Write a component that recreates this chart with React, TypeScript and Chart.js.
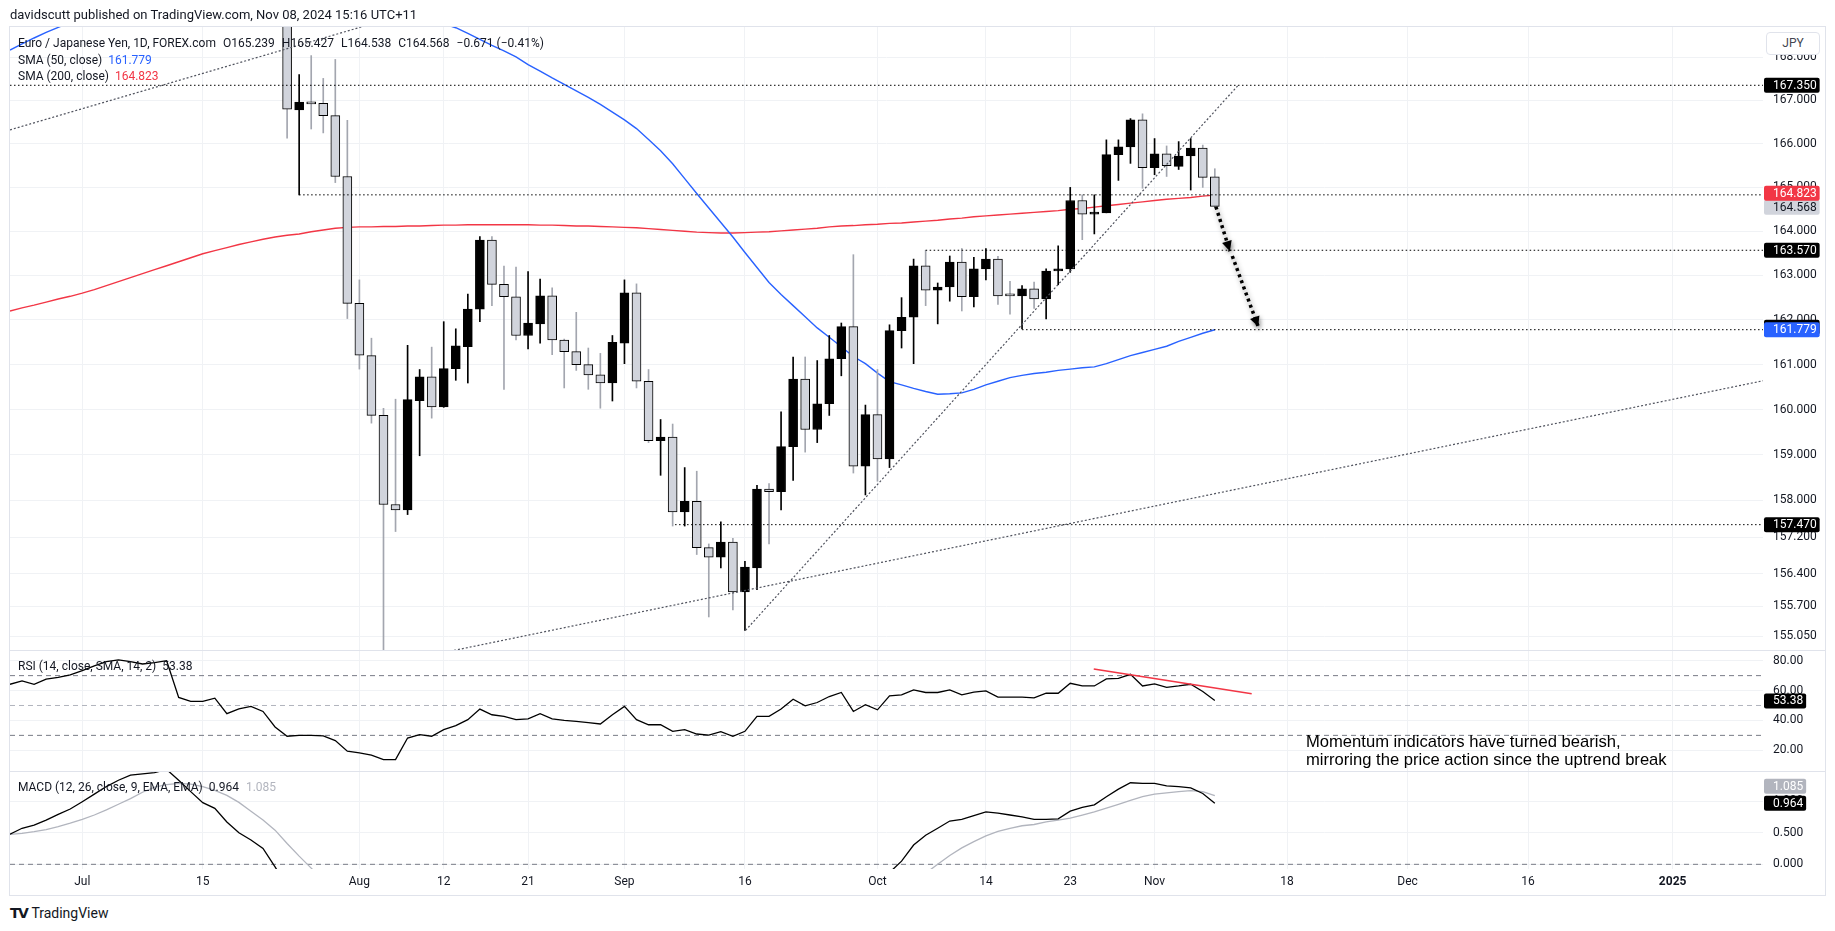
import React, { useEffect, useRef } from "react";
import { Chart, registerables } from "chart.js";

Chart.register(...registerables);

const FONT = "Roboto, 'Noto Sans', Arial, sans-serif";
const TEXT = "#131722";
const GRID = "#f0f2f5";

// ---------- time axis (trading-day index, 0 = 1 Jul 2024) ----------
const xMin = -6;
const xMax = 139.5;
const timeTickIndex = [0, 10, 23, 30, 37, 45, 55, 66, 75, 82, 89, 100, 110, 120, 132];
const timeTickLabels = ["Jul", "15", "Aug", "12", "21", "Sep", "16", "Oct", "14", "23", "Nov", "18", "Dec", "16", "2025"];

// ---------- candles (24 Jul .. 8 Nov 2024) ----------
const candleStartIndex = 17;
const opens = [168.85, 166.78, 166.96, 166.93, 166.65, 165.25, 162.37, 161.20, 159.87, 157.91,
  157.79, 160.20, 160.73, 160.06, 160.91, 161.40, 162.24, 163.80, 162.80, 162.52,
  161.65, 161.91, 162.54, 161.55, 161.29, 161.00, 160.77, 160.59, 161.48, 162.61,
  160.63, 159.31, 159.39, 157.75, 157.98, 156.97, 156.76, 157.09, 156.01, 156.53,
  158.25, 158.19, 159.18, 160.68, 159.56, 160.13, 161.13, 161.85, 158.75, 159.89,
  158.91, 161.76, 162.06, 163.22, 162.67, 162.74, 163.30, 162.52, 163.15, 163.37,
  162.56, 162.54, 162.70, 162.47, 163.10, 163.15, 164.70, 164.39, 164.42, 165.75,
  165.93, 166.55, 165.45, 165.77, 165.48, 165.72, 165.90, 165.239];
const highs = [169.10, 167.60, 168.04, 167.51, 167.95, 166.54, 162.90, 161.59, 160.03, 160.23,
  161.43, 160.89, 161.39, 161.96, 161.80, 162.58, 163.88, 163.88, 163.21, 163.19,
  163.09, 162.92, 162.72, 161.57, 162.17, 161.37, 161.25, 161.65, 162.90, 162.81,
  160.89, 159.78, 159.68, 158.72, 158.64, 157.05, 157.53, 157.17, 156.67, 158.33,
  158.37, 159.95, 161.17, 161.17, 161.09, 161.65, 161.93, 163.47, 160.10, 160.89,
  161.89, 162.50, 163.37, 163.57, 162.83, 163.44, 163.61, 163.41, 163.61, 163.43,
  162.87, 162.77, 162.85, 163.15, 163.67, 165.00, 164.83, 164.83, 166.09, 166.09,
  166.58, 166.69, 166.12, 165.95, 166.05, 166.12, 165.97, 165.427];
const lows = [166.13, 164.83, 166.34, 166.25, 165.11, 162.03, 160.90, 159.70, 154.40, 157.32,
  157.69, 158.98, 159.81, 160.05, 160.65, 160.59, 161.96, 162.32, 160.45, 161.55,
  161.35, 161.48, 161.22, 160.48, 160.87, 160.45, 160.03, 160.19, 161.02, 160.48,
  159.27, 158.55, 157.44, 157.44, 156.82, 155.47, 156.53, 155.62, 155.18, 156.06,
  157.05, 157.79, 158.44, 159.06, 159.27, 159.87, 160.75, 158.60, 158.12, 158.42,
  158.72, 161.37, 161.02, 162.32, 161.91, 162.42, 162.20, 162.29, 162.90, 162.35,
  162.13, 161.80, 162.26, 162.02, 162.79, 163.07, 163.81, 163.94, 164.42, 165.16,
  165.55, 164.98, 165.29, 165.25, 165.41, 164.94, 165.00, 164.538];
const closes = [166.80, 166.96, 166.92, 166.65, 165.25, 162.37, 161.21, 159.87, 157.91, 157.79,
  160.22, 160.73, 160.06, 160.91, 161.42, 162.24, 163.80, 162.80, 162.52, 161.65,
  161.93, 162.54, 161.55, 161.29, 161.00, 160.77, 160.59, 161.50, 162.61, 160.63,
  159.31, 159.39, 157.75, 157.98, 156.97, 156.76, 157.09, 156.01, 156.55, 158.25,
  158.19, 159.18, 160.68, 159.56, 160.13, 161.13, 161.85, 158.75, 159.89, 158.91,
  161.76, 162.06, 163.22, 162.67, 162.74, 163.30, 162.52, 163.15, 163.37, 162.54,
  162.54, 162.70, 162.47, 163.10, 163.15, 164.70, 164.39, 164.42, 165.75, 165.93,
  166.55, 165.45, 165.77, 165.50, 165.72, 165.90, 165.23, 164.568];

// ---------- indicator series (index -6 .. 94) ----------
const lineStartIndex = -6;
const sma50 = [168.17, 168.31, 168.45, 168.58, 168.70, 168.81,
  168.91, 169.00, 169.08, 169.15, 169.21, 169.27, 169.32, 169.37, 169.41, 169.44,
  169.46, 169.48, 169.49, 169.50, 169.50, 169.49, 169.48, 169.46, 169.44, 169.41,
  169.38, 169.34, 169.30, 169.25, 169.20, 169.14, 169.08, 169.01, 168.94, 168.86,
  168.78, 168.69, 168.56, 168.42, 168.28, 168.15, 168.01, 167.83, 167.68, 167.52,
  167.37, 167.22, 167.07, 166.91, 166.73, 166.55, 166.35, 166.10, 165.84, 165.54,
  165.20, 164.86, 164.53, 164.20, 163.87, 163.52, 163.18, 162.84, 162.57, 162.32,
  162.07, 161.82, 161.61, 161.40, 161.18, 161.02, 160.81, 160.62, 160.55, 160.47,
  160.40, 160.34, 160.35, 160.37, 160.45, 160.55, 160.63, 160.71, 160.76, 160.80,
  160.83, 160.87, 160.90, 160.93, 160.95, 161.02, 161.11, 161.20, 161.27, 161.34,
  161.41, 161.52, 161.61, 161.70, 161.779];
const sma200 = [162.20, 162.27, 162.33, 162.40, 162.47, 162.53,
  162.60, 162.68, 162.77, 162.86, 162.95, 163.04, 163.13, 163.22, 163.31, 163.40,
  163.49, 163.56, 163.63, 163.70, 163.76, 163.82, 163.87, 163.91, 163.94, 163.99,
  164.03, 164.07, 164.09, 164.10, 164.10, 164.11, 164.11, 164.12, 164.12, 164.13,
  164.14, 164.14, 164.15, 164.15, 164.15, 164.15, 164.15, 164.15, 164.14, 164.14,
  164.13, 164.12, 164.12, 164.11, 164.10, 164.09, 164.08, 164.06, 164.04, 164.02,
  164.00, 163.98, 163.97, 163.96, 163.96, 163.97, 163.98, 163.99, 164.01, 164.03,
  164.05, 164.07, 164.10, 164.12, 164.13, 164.15, 164.16, 164.18, 164.19, 164.21,
  164.23, 164.25, 164.28, 164.30, 164.33, 164.35, 164.37, 164.39, 164.41, 164.43,
  164.45, 164.47, 164.50, 164.52, 164.55, 164.58, 164.61, 164.64, 164.67, 164.70,
  164.73, 164.75, 164.77, 164.80, 164.823];
const rsi = [64.2, 66.5, 64.2, 67.6, 68.9, 70.5,
  73.4, 76.5, 79.4, 80.5, 79.4, 77.8, 78.7, 80.0, 55.4, 52.7,
  52.7, 54.9, 44.5, 47.8, 49.4, 46.0, 35.6, 29.4, 30.0, 30.0,
  29.6, 26.5, 19.4, 18.2, 16.7, 13.8, 13.8, 28.2, 30.5, 29.4,
  33.8, 36.5, 40.5, 47.6, 43.8, 42.7, 40.5, 41.1, 44.5, 41.1,
  40.0, 39.4, 38.5, 37.6, 43.8, 49.4, 40.5, 37.1, 37.1, 32.7,
  33.8, 30.9, 30.2, 32.5, 29.4, 32.7, 42.7, 42.7, 47.6, 54.2,
  49.8, 52.0, 56.0, 58.7, 46.0, 50.5, 47.1, 56.5, 57.1, 60.5,
  58.7, 58.7, 60.5, 57.1, 58.9, 59.8, 55.6, 55.6, 55.6, 55.1,
  58.2, 58.2, 64.9, 63.1, 63.1, 67.8, 68.2, 70.9, 63.1, 64.5,
  62.2, 63.1, 64.2, 59.4, 53.38];
const macd = [0.475, 0.57, 0.62, 0.70, 0.79, 0.875,
  0.99, 1.11, 1.23, 1.33, 1.41, 1.43, 1.45, 1.50, 1.33, 1.15,
  0.975, 0.886, 0.67, 0.50, 0.385, 0.25, -0.04, -0.35, -0.62, -0.85,
  -1.05, -1.3, -1.65, -1.95, -2.2, -2.45, -2.6, -2.5, -2.4, -2.3,
  -2.15, -1.98, -1.8, -1.55, -1.38, -1.25, -1.15, -1.05, -0.93, -0.86,
  -0.8, -0.76, -0.73, -0.71, -0.62, -0.5, -0.5, -0.54, -0.6, -0.7,
  -0.78, -0.87, -0.95, -1.0, -1.07, -1.08, -0.98, -0.9, -0.78, -0.6,
  -0.52, -0.43, -0.33, -0.22, -0.30, -0.33, -0.36, -0.13, 0.05, 0.305,
  0.46, 0.57, 0.685, 0.71, 0.77, 0.83, 0.81, 0.78, 0.75, 0.71,
  0.71, 0.72, 0.84, 0.90, 0.94, 1.07, 1.19, 1.29, 1.28, 1.28,
  1.24, 1.23, 1.21, 1.12, 0.964];
const signal = [0.475, 0.49, 0.516, 0.55, 0.595, 0.65,
  0.71, 0.78, 0.86, 0.95, 1.04, 1.14, 1.22, 1.26, 1.28, 1.27,
  1.23, 1.17, 1.09, 0.98, 0.84, 0.70, 0.54, 0.33, 0.13, -0.06,
  -0.25, -0.46, -0.70, -0.95, -1.20, -1.45, -1.68, -1.84, -1.95, -2.02,
  -2.05, -2.04, -1.99, -1.90, -1.80, -1.69, -1.58, -1.47, -1.36, -1.26,
  -1.17, -1.09, -1.02, -0.96, -0.89, -0.81, -0.75, -0.71, -0.69, -0.69,
  -0.71, -0.74, -0.78, -0.82, -0.86, -0.89, -0.90, -0.89, -0.86, -0.83,
  -0.80, -0.75, -0.69, -0.62, -0.58, -0.56, -0.54, -0.50, -0.40, -0.28,
  -0.14, 0.0, 0.14, 0.26, 0.36, 0.45, 0.52, 0.57, 0.61, 0.63,
  0.67, 0.70, 0.73, 0.78, 0.83, 0.89, 0.95, 1.01, 1.07, 1.11,
  1.13, 1.15, 1.165, 1.15, 1.085];

// ---------- axis ticks ----------
const priceTicks = [168, 167, 166, 165, 164, 163, 162, 161, 160, 159, 158, 157.2, 156.4, 155.7, 155.05];
const priceMin = 154.76;
const priceMax = 168.73;
const rsiTicks = [80, 60, 40, 20];
const rsiLevels = [70, 50, 30];
const rsiLevelColors = ["#787b86", "#b2b5be", "#787b86"];
const macdTicks = [1, 0.5, 0];

// ---------- drawings ----------
const levelValues = [167.35, 164.83, 163.57, 161.78, 157.47];
const levelStartIndex = [-6, 18, 70, 78, 49.2];
const trendStartIndex = [-6, 55.05, 25];
const trendStartPrice = [166.32, 155.18, 154.44];
const trendEndIndex = [25, 95.94, 139.5];
const trendEndPrice = [168.86, 167.35, 160.64];
const arrowFromIndex = [94.09, 95.45];
const arrowFromPrice = [164.56, 163.44];
const arrowToIndex = [95.25, 97.6];
const arrowToPrice = [163.55, 161.85];
const rsiTrendIndex = [83.95, 97.06];
const rsiTrendValue = [74.5, 57.8];

// ---------- helpers ----------
const series = (vals: number[]) => vals.map((v, i) => ({ x: lineStartIndex + i, y: v }));

const lineDs = (data: any[], color: string, width: number, order: number, dash: number[] = [], extra: any = {}) => ({
  type: "line",
  data,
  borderColor: color,
  borderWidth: width,
  borderDash: dash,
  pointRadius: 0,
  tension: 0,
  fill: false,
  order,
  clip: 0,
  ...extra,
});

const xScale = (showLabels: boolean) => ({
  type: "linear",
  min: xMin,
  max: xMax,
  offset: false,
  bounds: "data",
  afterBuildTicks: (s: any) => {
    s.ticks = timeTickIndex.map((v) => ({ value: v }));
  },
  afterFit: (s: any) => {
    s.height = showLabels ? 27 : 0;
    s.paddingLeft = 0;
    s.paddingRight = 0;
  },
  grid: { color: GRID, drawTicks: false, offset: false },
  border: { display: false },
  ticks: {
    display: showLabels,
    autoSkip: false,
    maxRotation: 0,
    padding: 6,
    color: TEXT,
    font: (c: any) => ({ family: FONT, size: 12, weight: c.tick && c.tick.value === 132 ? "bold" : "normal" }),
    callback: (v: any) => {
      const k = timeTickIndex.indexOf(Number(v));
      return k >= 0 ? timeTickLabels[k] : "";
    },
  },
});

const yScale = (type: string, min: number, max: number, ticks: number[], digits: number) => ({
  type,
  position: "right",
  min,
  max,
  bounds: "data",
  afterBuildTicks: (s: any) => {
    s.ticks = ticks.map((v) => ({ value: v }));
  },
  afterFit: (s: any) => {
    s.width = 72;
    s.paddingTop = 0;
    s.paddingBottom = 0;
  },
  grid: { color: GRID, drawTicks: false },
  border: { display: false },
  ticks: {
    autoSkip: false,
    padding: 10,
    color: TEXT,
    font: { family: FONT, size: 12 },
    callback: (v: any) => Number(v).toFixed(digits),
  },
});

function boxPlugin(id: string, items: any[]) {
  return {
    id,
    afterDraw(chart: any) {
      const ctx = chart.ctx;
      const ys = chart.scales.y;
      const left = chart.chartArea.right;
      ctx.save();
      ctx.font = `12px ${FONT}`;
      ctx.textBaseline = "middle";
      ctx.textAlign = "left";
      for (const it of items) {
        const y = ys.getPixelForValue(it.value) + (it.dy || 0);
        const tx = left + 10;
        const tw = ctx.measureText(it.text || it.ref).width;
        ctx.fillStyle = it.bg;
        ctx.beginPath();
        ctx.roundRect(left + 1, y - 7.5, tx + tw + 3 - (left + 1), 15, 2);
        ctx.fill();
        if (it.text) {
          ctx.fillStyle = it.fg;
          ctx.fillText(it.text, tx, y + 0.5);
        }
      }
      ctx.restore();
    },
  };
}

const arrowPlugin = {
  id: "arrowDeco",
  beforeDatasetDraw(chart: any, args: any) {
    const ds = chart.data.datasets[args.index];
    if (!ds.arrow) return;
    const c = chart.ctx;
    c.save();
    c.shadowColor = "rgba(0,0,0,0.45)";
    c.shadowBlur = 5;
    c.shadowOffsetX = 1;
    c.shadowOffsetY = 2;
  },
  afterDatasetDraw(chart: any, args: any) {
    const ds = chart.data.datasets[args.index];
    if (!ds.arrow) return;
    const c = chart.ctx;
    const pts = args.meta.data;
    const a = pts[pts.length - 2];
    const b = pts[pts.length - 1];
    const ang = Math.atan2(b.y - a.y, b.x - a.x);
    const L = 10;
    const H = 5;
    c.setLineDash([]);
    c.fillStyle = "#000";
    c.beginPath();
    c.moveTo(b.x, b.y);
    c.lineTo(b.x - L * Math.cos(ang) + H * Math.sin(ang), b.y - L * Math.sin(ang) - H * Math.cos(ang));
    c.lineTo(b.x - L * Math.cos(ang) - H * Math.sin(ang), b.y - L * Math.sin(ang) + H * Math.cos(ang));
    c.closePath();
    c.fill();
    c.restore();
  },
};

const baseOptions = (padTop: number) => ({
  responsive: false,
  animation: false,
  events: [],
  layout: { padding: { left: 10, top: padTop, right: 0, bottom: 0 } },
  plugins: { legend: { display: false }, tooltip: { enabled: false } },
});

function priceConfig(): any {
  const idx = opens.map((_, i) => candleStartIndex + i);
  const up = opens.map((o, i) => closes[i] >= o);
  const datasets: any[] = [
    {
      type: "bar",
      data: idx.map((x, i) => ({ x, y: [opens[i], closes[i]] })),
      backgroundColor: up.map((u) => (u ? "#000000" : "#d1d4dc")),
      borderColor: "#000000",
      borderWidth: 1,
      borderSkipped: false,
      barThickness: 9,
      minBarLength: 2,
      grouped: false,
      order: 2,
      clip: 0,
    },
    {
      type: "bar",
      data: idx.map((x, i) => ({ x, y: [lows[i], highs[i]] })),
      backgroundColor: up.map((u) => (u ? "#000000" : "#a3a6af")),
      borderWidth: 0,
      barThickness: 1,
      grouped: false,
      order: 3,
      clip: 0,
    },
    lineDs(series(sma50), "#2962ff", 1.4, 4),
    lineDs(series(sma200), "#f23645", 1.4, 4),
  ];
  levelValues.forEach((v, i) => {
    datasets.push(lineDs([{ x: levelStartIndex[i], y: v }, { x: xMax, y: v }], "#000000", 1, 1, [1.5, 2.5]));
  });
  trendStartIndex.forEach((s, i) => {
    datasets.push(
      lineDs([{ x: s, y: trendStartPrice[i] }, { x: trendEndIndex[i], y: trendEndPrice[i] }], "#50535e", 1.2, 1, [2, 2])
    );
  });
  arrowFromIndex.forEach((s, i) => {
    datasets.push(
      lineDs([{ x: s, y: arrowFromPrice[i] }, { x: arrowToIndex[i], y: arrowToPrice[i] }], "#000000", 3.5, 0, [3, 3.5], {
        arrow: true,
        borderCapStyle: "butt",
      })
    );
  });
  return {
    type: "bar",
    data: { datasets },
    options: {
      ...baseOptions(26),
      scales: {
        x: xScale(false),
        y: yScale("logarithmic", priceMin, priceMax, priceTicks, 3),
      },
    },
    plugins: [
      arrowPlugin,
      boxPlugin("priceBoxes", [
        { value: 167.35, text: "167.350", bg: "#000000", fg: "#ffffff" },
        { value: 163.57, text: "163.570", bg: "#000000", fg: "#ffffff" },
        { value: 157.47, text: "157.470", bg: "#000000", fg: "#ffffff" },
        { value: 164.568, text: "164.568", bg: "#d1d4dc", fg: TEXT, dy: 1 },
        { value: 164.823, text: "164.823", bg: "#f23645", fg: "#ffffff", dy: -2 },
        { value: 161.779, text: "", ref: "161.779", bg: "#000000", fg: "#ffffff", dy: -2.5 },
        { value: 161.779, text: "161.779", bg: "#2962ff", fg: "#ffffff" },
      ]),
    ],
  };
}

function rsiConfig(): any {
  const datasets: any[] = [lineDs(series(rsi), "#000000", 1.3, 1)];
  rsiLevels.forEach((v, i) => {
    datasets.push(lineDs([{ x: xMin, y: v }, { x: xMax, y: v }], rsiLevelColors[i], 1, 3, [5, 4]));
  });
  datasets.push(
    lineDs(rsiTrendIndex.map((x, i) => ({ x, y: rsiTrendValue[i] })), "#f23645", 1.5, 0)
  );
  return {
    type: "line",
    data: { datasets },
    options: {
      ...baseOptions(0),
      scales: { x: xScale(false), y: yScale("linear", 6.13, 87.17, rsiTicks, 2) },
    },
    plugins: [boxPlugin("rsiBoxes", [{ value: 53.38, text: "53.38", bg: "#000000", fg: "#ffffff", dy: 0.5 }])],
  };
}

function macdConfig(): any {
  const datasets: any[] = [
    lineDs(series(macd), "#000000", 1.3, 1),
    lineDs(series(signal), "#b2b5be", 1.3, 2),
    lineDs([{ x: xMin, y: 0 }, { x: xMax, y: 0 }], "#787b86", 1, 3, [5, 4]),
  ];
  return {
    type: "line",
    data: { datasets },
    options: {
      ...baseOptions(0),
      scales: { x: xScale(true), y: yScale("linear", -0.074, 1.476, macdTicks, 3) },
    },
    plugins: [
      boxPlugin("macdBoxes", [
        { value: 1.085, text: "1.085", bg: "#b2b5be", fg: "#ffffff", dy: -9.5 },
        { value: 0.964, text: "0.964", bg: "#000000", fg: "#ffffff", dy: 0 },
      ]),
    ],
  };
}

const abs = (left: number, cy: number, size: number, lh: number): React.CSSProperties => ({
  position: "absolute",
  left,
  top: cy - lh / 2,
  fontSize: size,
  lineHeight: `${lh}px`,
  whiteSpace: "nowrap",
});

export default function App() {
  const priceRef = useRef<HTMLCanvasElement>(null);
  const rsiRef = useRef<HTMLCanvasElement>(null);
  const macdRef = useRef<HTMLCanvasElement>(null);

  useEffect(() => {
    document.body.style.margin = "0";
    document.body.style.overflow = "hidden";
    const charts = [
      new Chart(priceRef.current as any, priceConfig()),
      new Chart(rsiRef.current as any, rsiConfig()),
      new Chart(macdRef.current as any, macdConfig()),
    ];
    return () => charts.forEach((c) => c.destroy());
  }, []);

  const gap = { marginLeft: 7 };
  return (
    <div
      style={{
        position: "fixed",
        left: 0,
        top: 0,
        width: 1835,
        height: 931,
        background: "#ffffff",
        overflow: "hidden",
        fontFamily: FONT,
        color: TEXT,
      }}
    >
      <canvas ref={priceRef} width={1835} height={650} style={{ position: "absolute", left: 0, top: 0 }} />
      <canvas ref={rsiRef} width={1835} height={121} style={{ position: "absolute", left: 0, top: 650 }} />
      <canvas ref={macdRef} width={1835} height={125} style={{ position: "absolute", left: 0, top: 771 }} />

      <div
        style={{
          position: "absolute",
          left: 9,
          top: 26,
          width: 1817,
          height: 870,
          border: "1px solid #e0e3eb",
          boxSizing: "border-box",
        }}
      />
      <div style={{ position: "absolute", left: 9, top: 650, width: 1817, height: 1, background: "#e0e3eb" }} />
      <div style={{ position: "absolute", left: 9, top: 771, width: 1817, height: 1, background: "#e0e3eb" }} />

      <div style={abs(10, 15, 13, 18)}>davidscutt published on TradingView.com, Nov 08, 2024 15:16 UTC+11</div>

      <div style={abs(18, 43, 12, 18)}>
        <span>Euro / Japanese Yen, 1D, FOREX.com</span>
        <span style={gap}>O165.239</span>
        <span style={gap}>H165.427</span>
        <span style={gap}>L164.538</span>
        <span style={gap}>C164.568</span>
        <span style={gap}>−0.671 (−0.41%)</span>
      </div>
      <div style={abs(18, 59.5, 12, 18)}>
        SMA (50, close) <span style={{ color: "#2962ff", marginLeft: 3 }}>161.779</span>
      </div>
      <div style={abs(18, 76, 12, 18)}>
        SMA (200, close) <span style={{ color: "#f23645", marginLeft: 3 }}>164.823</span>
      </div>

      <div style={abs(18, 666, 12, 18)}>
        RSI (14, close, SMA, 14, 2) <span style={{ marginLeft: 3 }}>53.38</span>
      </div>
      <div style={abs(18, 787, 12, 18)}>
        MACD (12, 26, close, 9, EMA, EMA) <span style={{ marginLeft: 3 }}>0.964</span>
        <span style={{ marginLeft: 7, color: "#b2b5be" }}>1.085</span>
      </div>

      <div
        style={{
          position: "absolute",
          left: 1766,
          top: 32,
          width: 54,
          height: 23,
          border: "1px solid #e0e3eb",
          borderRadius: 4,
          boxSizing: "border-box",
          background: "#ffffff",
          fontSize: 12,
          lineHeight: "21px",
          textAlign: "center",
          color: "#434651",
        }}
      >
        JPY
      </div>

      <div
        style={{
          position: "absolute",
          left: 1306,
          top: 733.3,
          fontSize: 16.6,
          lineHeight: "18px",
          fontFamily: "'Liberation Sans', Arial, sans-serif",
          color: "#000000",
          whiteSpace: "nowrap",
        }}
      >
        Momentum indicators have turned bearish,
        <br />
        mirroring the price action since the uptrend break
      </div>

      <div style={{ ...abs(10, 913, 14, 18), display: "flex", alignItems: "center" }}>
        <span style={{ fontWeight: 900, fontSize: 14, letterSpacing: -1.5, fontFamily: "'DejaVu Sans', sans-serif" }}>TV</span>
        <span style={{ marginLeft: 4, fontSize: 14 }}>TradingView</span>
      </div>
    </div>
  );
}
